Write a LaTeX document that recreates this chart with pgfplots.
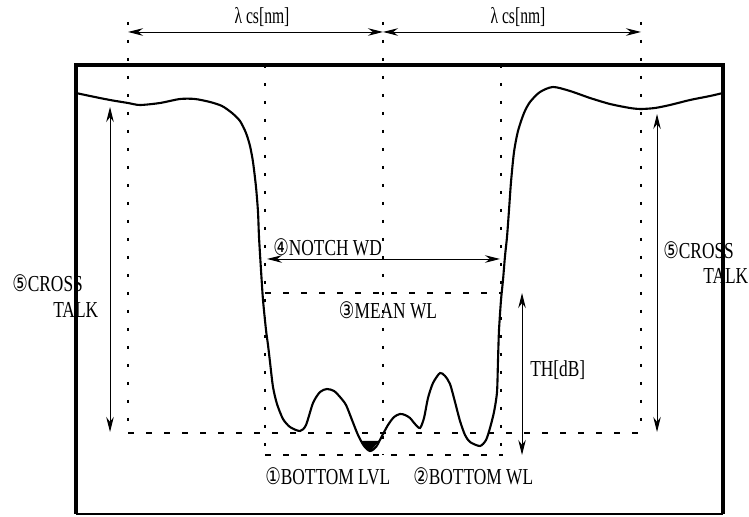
\documentclass[border=0pt]{standalone}
\usepackage{pgfplots}
\pgfplotsset{compat=1.18}
\usepackage{fontspec}
\setmainfont{Liberation Serif}
\newfontfamily\circfont{DejaVu Sans}
\usetikzlibrary{arrows.meta}
\newcommand{\cn}[1]{{\circfont #1}}
\tikzset{
  lbl/.style={font=\fontsize{13}{14}\selectfont, xscale=0.76, inner sep=0pt},
  dotv/.style={line width=1.1pt, dash pattern=on 0.07cm off 0.29cm},
  dashh/.style={line width=1pt, dash pattern=on 0.11cm off 0.25cm},
  arr/.style={line width=0.55pt, {Stealth[length=0.3cm,width=0.15cm]}-{Stealth[length=0.3cm,width=0.15cm]}},
}
\begin{document}
\begin{tikzpicture}
\begin{axis}[
  scale only axis,
  width=14.98cm, height=10.32cm,
  xmin=0, xmax=749, ymin=0, ymax=516,
  y dir=reverse,
  hide axis,
  clip=false,
]
\path (0,0) rectangle (749,516);

% frame
\draw[line width=2.3pt] (76,514) -- (76,65) -- (723,65) -- (723,514);
\draw[line width=1.1pt] (76,514) -- (723,514);

% spectrum curve
\addplot[black, line width=1.2pt, smooth, tension=0.45] coordinates {
  (76,93) (90,96) (110,100) (128,103) (140,105) (160,103) (180,99) (195,99)
  (210,102) (222,106) (232,113) (240,121) (246,133) (250,146) (253,162)
  (256,187) (258,212) (259,237) (261,270) (263,300) (266,330) (268,345)
  (270,362) (273,387) (277,404) (283,419) (290,427) (300,431) (306,425)
  (313,403) (320,392) (327,389) (334,391) (340,397) (346,405) (352,420)
  (358,435) (364,446) (370,451) (376,447) (382,436) (388,425) (394,417)
  (400,414) (405,415) (410,418) (415,424) (420,428) (424,418) (428,398)
  (433,383) (440,373) (445,376) (450,384) (455,402) (460,421) (465,435)
  (470,442) (480,446) (486,440) (490,428) (494,412) (497,392) (498,360)
  (499,330) (501,300) (503,280) (505,256) (507,237) (509,210) (511,182)
  (514,152) (518,131) (524,113) (530,102) (540,92) (553,87) (570,91)
  (590,98) (610,104) (630,108) (641,109) (655,108) (670,105) (690,100)
  (710,96) (723,93)
};
\fill (360,441) -- (379,441) -- (370,452) -- cycle;

% vertical dotted guides
\draw[dotv] (128,22) -- (128,432);
\draw[dotv] (641,22) -- (641,432);
\draw[dotv] (383,22) -- (383,455);
\draw[dotv] (265,65) -- (265,455);
\draw[dotv] (501,65) -- (501,455);

% horizontal dashed guides
\draw[dashh] (128,433) -- (641,433);
\draw[dashh] (265,455) -- (503,455);
\draw[dashh] (265,293) -- (501,293);

% lambda cs arrows
\draw[arr] (128,32) -- (383,32);
\draw[arr] (383,32) -- (641,32);
\node[lbl, xscale=0.9] at (262,17) {λ cs[nm]};
\node[lbl, xscale=0.9] at (518,17) {λ cs[nm]};

% cross talk
\draw[arr] (110,107) -- (110,432);
\draw[arr] (657,114) -- (657,432);
\node[lbl, anchor=west] at (12,283) {\cn{⑤}CROSS};
\node[lbl, anchor=west] at (53,310) {TALK};
\node[lbl, anchor=west] at (663,250) {\cn{⑤}CROSS};
\node[lbl, anchor=west] at (703,276) {TALK};

% notch width
\draw[arr] (267,259) -- (500,259);
\node[lbl, anchor=west] at (273,247) {\cn{④}NOTCH WD};

% mean wl
\node[lbl] at (388,310) {\cn{③}MEAN WL};

% threshold
\draw[arr] (522,293) -- (522,455);
\node[lbl, anchor=west] at (530,370) {TH[dB]};

% bottom labels
\node[lbl, anchor=west] at (265,476) {\cn{①}BOTTOM LVL};
\node[lbl, anchor=west] at (413,476) {\cn{②}BOTTOM WL};
\end{axis}
\end{tikzpicture}
\end{document}
